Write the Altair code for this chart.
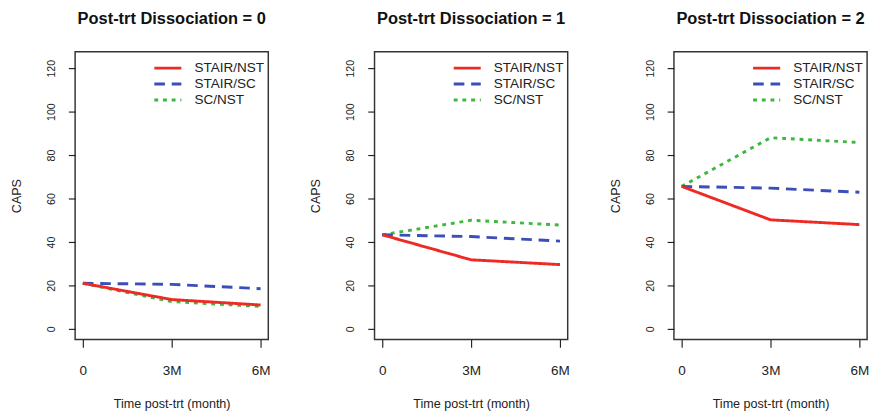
import altair as alt
import pandas as pd

FONT = "Liberation Sans"

series = ["STAIR/NST", "STAIR/SC", "SC/NST"]
colors = ["#EE2A24", "#3C4FB8", "#3DB73D"]
dashes = [[1, 0], [11, 7], [4, 5]]
months = [0, 3, 6]
y_ticks = [0, 20, 40, 60, 80, 100, 120]

# CAPS values, per panel (Post-trt Dissociation = 0, 1, 2)
d0_stair_nst = [21.0, 13.5, 11.0]
d0_stair_sc = [21.0, 20.5, 18.5]
d0_sc_nst = [21.0, 12.6, 10.3]

d1_stair_nst = [43.3, 31.8, 29.6]
d1_stair_sc = [43.3, 42.5, 40.4]
d1_sc_nst = [43.3, 50.0, 47.8]

d2_stair_nst = [65.6, 50.2, 48.0]
d2_stair_sc = [65.6, 64.8, 62.9]
d2_sc_nst = [65.6, 88.0, 85.8]

panel_names = ["0", "1", "2"]
panel_data = [
    [d0_stair_nst, d0_stair_sc, d0_sc_nst],
    [d1_stair_nst, d1_stair_sc, d1_sc_nst],
    [d2_stair_nst, d2_stair_sc, d2_sc_nst],
]

TEXT = "#222222"


def make_panel(name, vals):
    rows = []
    for s, v in zip(series, vals):
        for m, c in zip(months, v):
            rows.append({"series": s, "month": m, "caps": c})
    df = pd.DataFrame(rows)

    legend = alt.Legend(
        title=None,
        orient="none",
        legendX=80.5,
        legendY=9,
        symbolType="stroke",
        symbolSize=784,
        symbolStrokeWidth=3,
        labelFontSize=14,
        labelFont=FONT,
        labelColor=TEXT,
        labelOffset=12,
        clipHeight=16,
        rowPadding=0.5,
        padding=0,
    )
    color = alt.Color(
        "series:N",
        scale=alt.Scale(domain=series, range=colors),
        legend=legend,
    )
    dash = alt.StrokeDash(
        "series:N",
        scale=alt.Scale(domain=series, range=dashes),
        legend=legend,
    )
    x = alt.X(
        "month:Q",
        scale=alt.Scale(domain=[-0.26, 6.26], nice=False, zero=False),
        axis=alt.Axis(
            values=months,
            labelExpr="datum.value == 0 ? '0' : datum.value + 'M'",
            title="Time post-trt (month)",
            grid=False,
            domain=False,
            tickSize=8,
            tickColor=TEXT,
            tickWidth=1.2,
            labelPadding=17,
            labelFontSize=14,
            labelFont=FONT,
            labelColor=TEXT,
            titlePadding=21,
            titleFontSize=13,
            titleFont=FONT,
            titleFontWeight="normal",
            titleColor=TEXT,
        ),
    )
    y = alt.Y(
        "caps:Q",
        scale=alt.Scale(domain=[-4.9, 127.6], nice=False, zero=False),
        axis=alt.Axis(
            values=y_ticks,
            title="CAPS",
            grid=False,
            domain=False,
            tickSize=7,
            tickColor=TEXT,
            tickWidth=1.2,
            labelAngle=270,
            labelAlign="center",
            labelBaseline="bottom",
            labelPadding=12.5,
            labelFontSize=11,
            labelFont=FONT,
            labelColor=TEXT,
            titlePadding=23,
            titleFontSize=13,
            titleFont=FONT,
            titleFontWeight="normal",
            titleColor=TEXT,
        ),
    )
    base = alt.Chart(df)
    layers = []
    for s in ["SC/NST", "STAIR/SC", "STAIR/NST"]:
        layers.append(
            base.transform_filter(alt.datum.series == s)
            .mark_line(strokeWidth=3)
            .encode(x=x, y=y, color=color, strokeDash=dash)
        )
    return alt.layer(*layers).properties(
        width=200,
        height=298,
        title=alt.Title(
            f"Post-trt Dissociation = {name}",
            fontSize=17,
            fontWeight="bold",
            font=FONT,
            color="#111111",
            anchor="middle",
            offset=25,
        ),
    )


panels = [make_panel(n, v) for n, v in zip(panel_names, panel_data)]

chart = (
    alt.hconcat(*panels, spacing=39)
    .resolve_scale(color="independent", strokeDash="independent")
    .configure_view(stroke="#333333", strokeWidth=1.5)
    .properties(padding={"left": 1.5, "top": -6, "right": 0, "bottom": 0}, background="white")
)

chart.save("out.html", embed_options={"renderer": "svg", "actions": False})
